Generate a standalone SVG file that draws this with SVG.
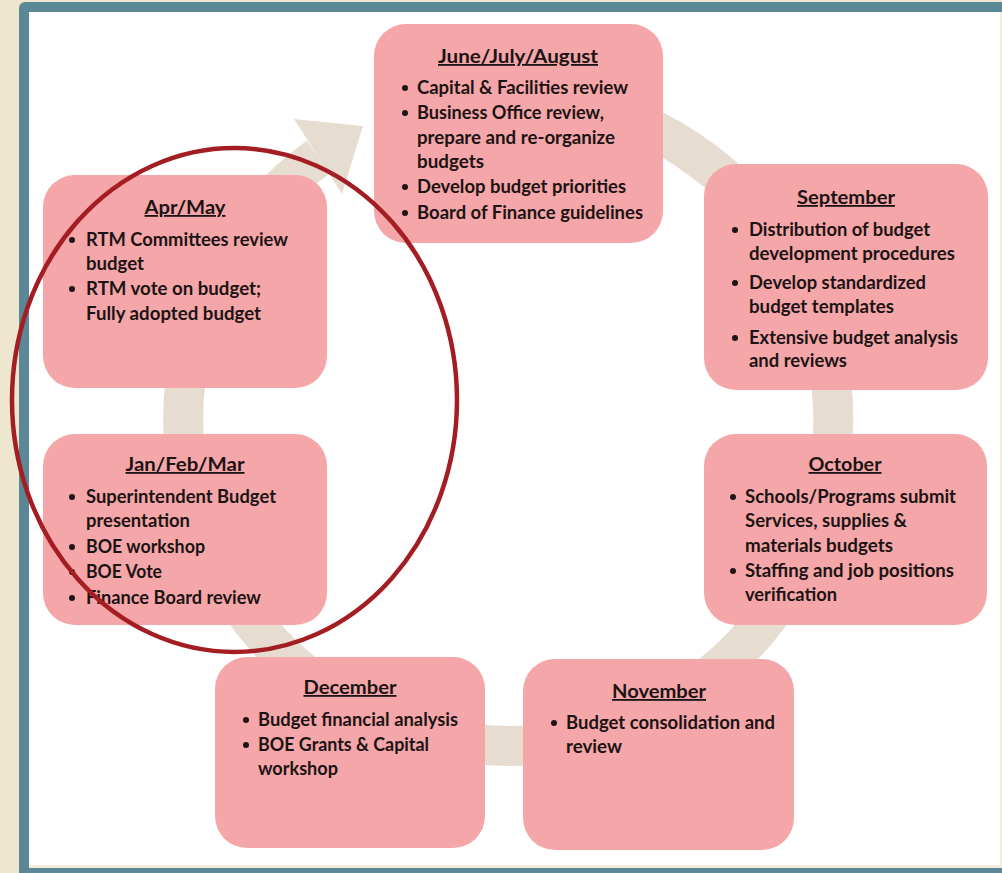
<svg xmlns="http://www.w3.org/2000/svg" width="1002" height="873" viewBox="0 0 1002 873">
<style>
.box{fill:#F5A6A9}
.h{font-family:Lato,"Liberation Sans",sans-serif;font-weight:bold;font-size:18px;fill:#1c1414;text-anchor:middle;text-decoration:underline}
.t{font-family:Lato,"Liberation Sans",sans-serif;font-weight:bold;font-size:18px;fill:#1c1414}
.b{fill:#1c1414}
</style>
<rect width="1002" height="873" fill="#EFE6CF"/>
<rect x="19" y="2" width="1000" height="900" rx="6" fill="#5B8896"/>
<rect x="29" y="12" width="973" height="856" fill="#F3ECDA"/>
<rect x="29" y="12" width="971" height="853" fill="#FFFFFF"/>
<rect x="19" y="868" width="983" height="5" fill="#5B8896"/>
<g id="connectors">
<path d="M396.8,115.6 A325,325 0 1 1 318.4,157.1" fill="none" stroke="#E6DDD0" stroke-width="40"/>
<polygon points="294,119 363,126 342,194" fill="#E6DDD0"/>
</g>
<g id="jja">
<rect class="box" x="374" y="24" width="289" height="219" rx="32"/>
<text class="h" x="518" y="63" textLength="160" lengthAdjust="spacingAndGlyphs">June/July/August</text>
<circle class="b" cx="405" cy="88" r="3"/><text class="t" x="417" y="94" textLength="211" lengthAdjust="spacingAndGlyphs">Capital &amp; Facilities review</text>
<circle class="b" cx="405" cy="113" r="3"/><text class="t" x="417" y="119" textLength="187" lengthAdjust="spacingAndGlyphs">Business Office review,</text>
<text class="t" x="417" y="144" textLength="198" lengthAdjust="spacingAndGlyphs">prepare and re-organize</text>
<text class="t" x="417" y="168" textLength="67" lengthAdjust="spacingAndGlyphs">budgets</text>
<circle class="b" cx="405" cy="187" r="3"/><text class="t" x="417" y="193" textLength="209" lengthAdjust="spacingAndGlyphs">Develop budget priorities</text>
<circle class="b" cx="405" cy="213" r="3"/><text class="t" x="417" y="219" textLength="226" lengthAdjust="spacingAndGlyphs">Board of Finance guidelines</text>
</g>
<g id="sep">
<rect class="box" x="704" y="164" width="284" height="226" rx="32"/>
<text class="h" x="846" y="204" textLength="98" lengthAdjust="spacingAndGlyphs">September</text>
<circle class="b" cx="735" cy="230" r="3"/><text class="t" x="749" y="236" textLength="181" lengthAdjust="spacingAndGlyphs">Distribution of budget</text>
<text class="t" x="749" y="260" textLength="206" lengthAdjust="spacingAndGlyphs">development procedures</text>
<circle class="b" cx="735" cy="283" r="3"/><text class="t" x="749" y="289" textLength="177" lengthAdjust="spacingAndGlyphs">Develop standardized</text>
<text class="t" x="749" y="313" textLength="145" lengthAdjust="spacingAndGlyphs">budget templates</text>
<circle class="b" cx="735" cy="338" r="3"/><text class="t" x="749" y="344" textLength="209" lengthAdjust="spacingAndGlyphs">Extensive budget analysis</text>
<text class="t" x="749" y="367" textLength="98" lengthAdjust="spacingAndGlyphs">and reviews</text>
</g>
<g id="oct">
<rect class="box" x="704" y="434" width="283" height="191" rx="32"/>
<text class="h" x="845" y="471" textLength="73" lengthAdjust="spacingAndGlyphs">October</text>
<circle class="b" cx="733" cy="497" r="3"/><text class="t" x="745" y="503" textLength="211" lengthAdjust="spacingAndGlyphs">Schools/Programs submit</text>
<text class="t" x="745" y="527" textLength="162" lengthAdjust="spacingAndGlyphs">Services, supplies &amp;</text>
<text class="t" x="745" y="552" textLength="148" lengthAdjust="spacingAndGlyphs">materials budgets</text>
<circle class="b" cx="733" cy="571" r="3"/><text class="t" x="745" y="577" textLength="209" lengthAdjust="spacingAndGlyphs">Staffing and job positions</text>
<text class="t" x="745" y="601" textLength="92" lengthAdjust="spacingAndGlyphs">verification</text>
</g>
<g id="nov">
<rect class="box" x="523" y="659" width="271" height="191" rx="32"/>
<text class="h" x="659" y="698" textLength="94" lengthAdjust="spacingAndGlyphs">November</text>
<circle class="b" cx="554" cy="723" r="3"/><text class="t" x="566" y="729" textLength="209" lengthAdjust="spacingAndGlyphs">Budget consolidation and</text>
<text class="t" x="566" y="753" textLength="56" lengthAdjust="spacingAndGlyphs">review</text>
</g>
<g id="dec">
<rect class="box" x="215" y="657" width="270" height="191" rx="32"/>
<text class="h" x="350" y="694" textLength="93" lengthAdjust="spacingAndGlyphs">December</text>
<circle class="b" cx="246" cy="720" r="3"/><text class="t" x="258" y="726" textLength="200" lengthAdjust="spacingAndGlyphs">Budget financial analysis</text>
<circle class="b" cx="246" cy="745" r="3"/><text class="t" x="258" y="751" textLength="171" lengthAdjust="spacingAndGlyphs">BOE Grants &amp; Capital</text>
<text class="t" x="258" y="775" textLength="80" lengthAdjust="spacingAndGlyphs">workshop</text>
</g>
<g id="jfm">
<rect class="box" x="43" y="434" width="284" height="191" rx="32"/>
<text class="h" x="185" y="471" textLength="119" lengthAdjust="spacingAndGlyphs">Jan/Feb/Mar</text>
<circle class="b" cx="72" cy="497" r="3"/><text class="t" x="86" y="503" textLength="190" lengthAdjust="spacingAndGlyphs">Superintendent Budget</text>
<text class="t" x="86" y="527" textLength="104" lengthAdjust="spacingAndGlyphs">presentation</text>
<circle class="b" cx="72" cy="547" r="3"/><text class="t" x="86" y="553" textLength="119" lengthAdjust="spacingAndGlyphs">BOE workshop</text>
<circle class="b" cx="72" cy="572" r="3"/><text class="t" x="86" y="578" textLength="76" lengthAdjust="spacingAndGlyphs">BOE Vote</text>
<circle class="b" cx="72" cy="598" r="3"/><text class="t" x="86" y="604" textLength="175" lengthAdjust="spacingAndGlyphs">Finance Board review</text>
</g>
<g id="aprmay">
<rect class="box" x="43" y="175" width="284" height="213" rx="32"/>
<text class="h" x="185" y="214" textLength="81" lengthAdjust="spacingAndGlyphs">Apr/May</text>
<circle class="b" cx="72" cy="240" r="3"/><text class="t" x="86" y="246" textLength="202" lengthAdjust="spacingAndGlyphs">RTM Committees review</text>
<text class="t" x="86" y="270" textLength="58" lengthAdjust="spacingAndGlyphs">budget</text>
<circle class="b" cx="72" cy="289" r="3"/><text class="t" x="86" y="295" textLength="175" lengthAdjust="spacingAndGlyphs">RTM vote on budget;</text>
<text class="t" x="86" y="320" textLength="175" lengthAdjust="spacingAndGlyphs">Fully adopted budget</text>
</g>
<g id="highlight">
<ellipse cx="234.5" cy="400" rx="222.5" ry="252" fill="none" stroke="#A31D23" stroke-width="4.5"/>
</g>
</svg>
